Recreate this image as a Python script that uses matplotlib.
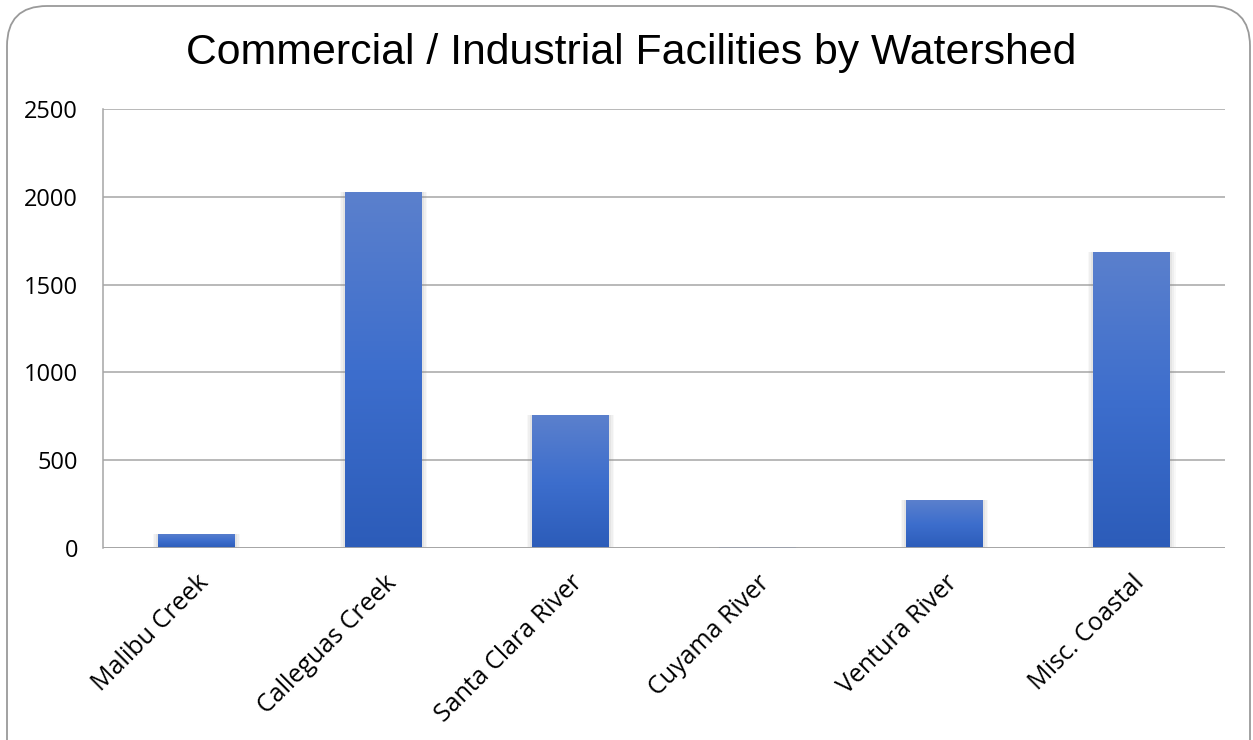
import matplotlib.pyplot as plt
import numpy as np
from matplotlib.patches import FancyBboxPatch
from matplotlib.colors import LinearSegmentedColormap
from matplotlib.transforms import IdentityTransform

watersheds = ["Malibu Creek", "Calleguas Creek", "Santa Clara River",
              "Cuyama River", "Ventura River", "Misc. Coastal"]
facilities = [80, 2025, 757, 3, 272, 1686]
yticks = [0, 500, 1000, 1500, 2000, 2500]

fig = plt.figure(figsize=(12.53, 7.40), dpi=100)

# rounded frame round the whole chart (pixel coords, bottom runs off the page)
frame = FancyBboxPatch((7, -100), 1243, 834,
                       boxstyle="round,pad=0,rounding_size=40",
                       transform=IdentityTransform(), facecolor="none",
                       edgecolor="#9a9a9a", linewidth=1.3, zorder=-1)
fig.patches.append(frame)

ax = fig.add_axes([0.0822, 0.2595, 0.8955, 0.5932])
ax.set_facecolor("none")
x = np.arange(len(watersheds))
w = 0.41

# soft shadow behind bars
for extra, alpha in [(0.06, 0.05), (0.04, 0.07), (0.02, 0.09)]:
    ax.bar(x, facilities, width=w + extra, color="#808080", alpha=alpha,
           zorder=2, linewidth=0)

bars = ax.bar(x, facilities, width=w, color="#3f6fcc", zorder=3, linewidth=0)

cmap = LinearSegmentedColormap.from_list("blu", ["#2c5cb9", "#3d6ecd", "#5b80cc"])
grad = np.linspace(0, 1, 256).reshape(-1, 1)
for b in bars:
    x0, y0 = b.get_x(), b.get_y()
    x1, y1 = x0 + b.get_width(), y0 + b.get_height()
    if y1 - y0 <= 0:
        continue
    im = ax.imshow(grad, cmap=cmap, aspect="auto", origin="lower",
                   extent=(x0, x1, y0, y1), zorder=4)
    im.set_clip_path(b)

ax.set_xlim(-0.5, len(watersheds) - 0.5)
ax.set_ylim(0, 2500)
ax.set_yticks(yticks)
ax.yaxis.grid(True, color="#a6a6a6", linewidth=1.1, zorder=1)
ax.set_axisbelow(True)
for s in ["top", "right", "bottom"]:
    ax.spines[s].set_visible(False)
ax.spines["left"].set_color("#a6a6a6")
ax.spines["left"].set_linewidth(1.1)
ax.axhline(0, color="#a6a6a6", linewidth=1.3, zorder=5)

ax.set_xticks(x)
ax.set_xticklabels(watersheds, rotation=45, ha="right", rotation_mode="anchor",
                   fontsize=18, family="Open Sans")
ax.tick_params(axis="x", length=0, pad=16)
ax.tick_params(axis="y", length=0, pad=18, labelsize=17)
for lbl in ax.get_yticklabels():
    lbl.set_family("Open Sans")

fig.text(0.504, 0.928, "Commercial / Industrial Facilities by Watershed",
         ha="center", va="center", fontsize=30.8, family="Liberation Sans")

fig.savefig("out.png", dpi=100)
